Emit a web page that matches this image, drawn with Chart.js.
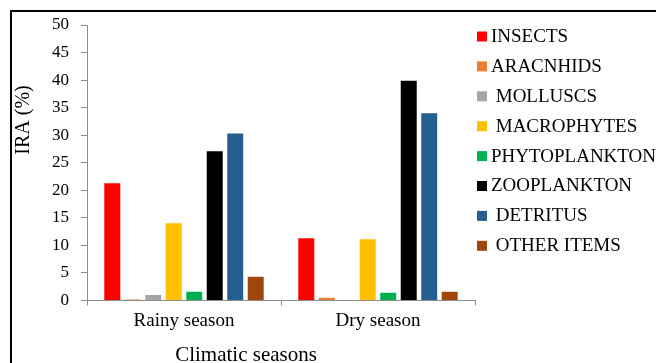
<!DOCTYPE html>
<html>
<head>
<meta charset="utf-8">
<script src="https://cdn.jsdelivr.net/npm/chart.js@4/dist/chart.umd.min.js"></script>
<style>
  html, body { margin: 0; padding: 0; background: #fff; }
  #wrap { position: relative; width: 656px; height: 363px; overflow: hidden; }
  #frame { position: absolute; left: 10px; top: 10px; width: 700px; height: 400px;
           border-top: 2px solid #000; border-left: 2px solid #000; pointer-events: none; }
  canvas { position: absolute; left: 0; top: 0; }
</style>
</head>
<body>
<div id="wrap">
  <canvas id="c" width="656" height="363"></canvas>
  <div id="frame"></div>
</div>
<script>
// Seasons on the x axis
const seasons = ['Rainy season', 'Dry season'];

// Food items and their index of relative abundance (%) per season
const items = ['INSECTS', 'ARACNHIDS', ' MOLLUSCS', ' MACROPHYTES', 'PHYTOPLANKTON', 'ZOOPLANKTON', ' DETRITUS', ' OTHER ITEMS'];
const insects      = [21.3, 11.3];
const aracnhids    = [0.2, 0.5];
const molluscs     = [1.0, 0.0];
const macrophytes  = [14.0, 11.1];
const phytoplankton = [1.6, 1.4];
const zooplankton  = [27.1, 39.9];
const detritus     = [30.3, 34.0];
const otherItems   = [4.3, 1.6];

const yTicks = [0, 5, 10, 15, 20, 25, 30, 35, 40, 45, 50];

const series = [insects, aracnhids, molluscs, macrophytes, phytoplankton, zooplankton, detritus, otherItems];
const colors = ['#FF0000', '#ED7D31', '#A5A5A5', '#FFC000', '#00B050', '#000000', '#255E91', '#9E480E'];

const serif = '"Liberation Serif", "Times New Roman", serif';

// Legend list on the right, one row per food item
const sideLegend = {
  id: 'sideLegend',
  afterDraw(chart) {
    const ctx = chart.ctx;
    ctx.save();
    ctx.font = '19px ' + serif;
    ctx.textBaseline = 'middle';
    ctx.textAlign = 'left';
    chart.data.datasets.forEach((ds, i) => {
      const y = 36 + i * 29.9;
      ctx.fillStyle = ds.backgroundColor;
      ctx.fillRect(477, y - 4.5, 10, 10);
      ctx.fillStyle = '#000';
      ctx.fillText(ds.label, 491, y + 1);
    });
    ctx.restore();
  }
};

// Axis titles
const axisTitles = {
  id: 'axisTitles',
  afterDraw(chart) {
    const ctx = chart.ctx;
    ctx.save();
    ctx.fillStyle = '#000';
    ctx.textAlign = 'center';
    ctx.textBaseline = 'middle';
    ctx.font = '21px ' + serif;
    ctx.fillText('Climatic seasons', 246, 355);
    ctx.translate(24, 120);
    ctx.rotate(-Math.PI / 2);
    ctx.font = '20px ' + serif;
    ctx.fillText('IRA (%)', 0, 0);
    ctx.restore();
  }
};

new Chart(document.getElementById('c'), {
  type: 'bar',
  data: {
    labels: seasons,
    datasets: items.map((name, i) => ({
      label: name,
      data: series[i],
      backgroundColor: colors[i],
      borderWidth: 0,
      categoryPercentage: 0.845,
      barPercentage: 0.78
    }))
  },
  options: {
    responsive: false,
    animation: false,
    devicePixelRatio: 1,
    layout: { padding: { left: 0, right: 181, top: 25, bottom: 0 } },
    plugins: {
      legend: { display: false },
      tooltip: { enabled: false }
    },
    scales: {
      x: {
        offset: true,
        grid: { display: true, drawOnChartArea: false, drawTicks: true, tickLength: 5, color: '#8c8c8c', offset: true },
        border: { display: true, color: '#8c8c8c', width: 1 },
        ticks: { color: '#000', font: { family: serif, size: 19 }, padding: 4 },
        afterFit(s) { s.height = 62.5; }
      },
      y: {
        min: 0,
        max: 50,
        afterBuildTicks(s) { s.ticks = yTicks.map(v => ({ value: v })); },
        grid: { display: true, drawOnChartArea: false, drawTicks: true, tickLength: 6, color: '#8c8c8c' },
        border: { display: true, color: '#8c8c8c', width: 1 },
        ticks: { color: '#000', font: { family: serif, size: 17 }, padding: 12 },
        afterFit(s) { s.width = 87; }
      }
    }
  },
  plugins: [sideLegend, axisTitles]
});
</script>
</body>
</html>
